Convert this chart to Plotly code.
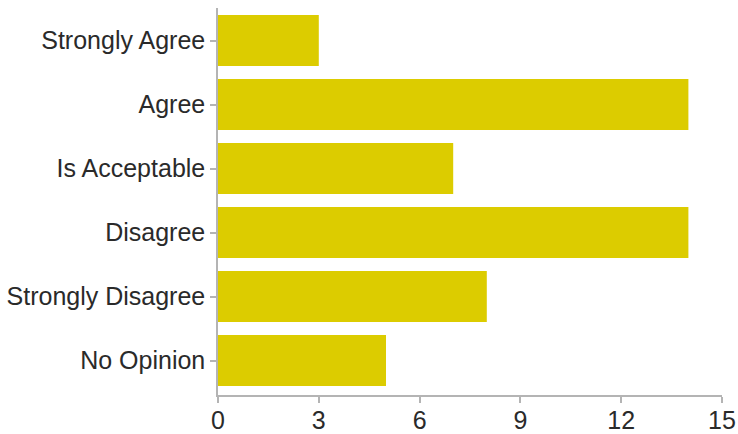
import plotly.graph_objects as go

categories = ["Strongly Agree", "Agree", "Is Acceptable", "Disagree", "Strongly Disagree", "No Opinion"]
counts = [3, 14, 7, 14, 8, 5]
x_ticks = [0, 3, 6, 9, 12, 15]

fig = go.Figure(go.Bar(
    x=counts, y=categories, orientation="h",
    marker=dict(color="#DCCC00", line=dict(width=0)),
    hoverinfo="x+y",
))

axis_font = dict(family="Liberation Sans, Arial, Helvetica, sans-serif", size=25, color="#2a2a2a")

fig.update_layout(
    width=738, height=434,
    margin=dict(l=218, r=16, t=8, b=39, autoexpand=False),
    paper_bgcolor="white", plot_bgcolor="white",
    bargap=0.2,
    showlegend=False,
    xaxis=dict(
        range=[0, 15], tickvals=x_ticks, ticktext=[str(v) for v in x_ticks],
        showgrid=False, zeroline=False, showline=True, linecolor="#b4b4b4", linewidth=1.5,
        ticks="outside", ticklen=6, tickcolor="#b4b4b4", tickwidth=1.5,
        ticklabelstandoff=-4,
        tickfont=axis_font, automargin=False,
    ),
    yaxis=dict(
        type="category", categoryorder="array", categoryarray=categories,
        range=[5.539, -0.508],
        showgrid=False, zeroline=False, showline=True, linecolor="#b4b4b4", linewidth=1.5,
        ticks="outside", ticklen=6, tickcolor="#b4b4b4", tickwidth=1.5,
        tickfont=axis_font, automargin=False,
    ),
)

fig.write_html(
    "out.html",
    config={"displayModeBar": False},
    post_script="document.body.style.margin='0';document.body.style.overflow='hidden';",
)
